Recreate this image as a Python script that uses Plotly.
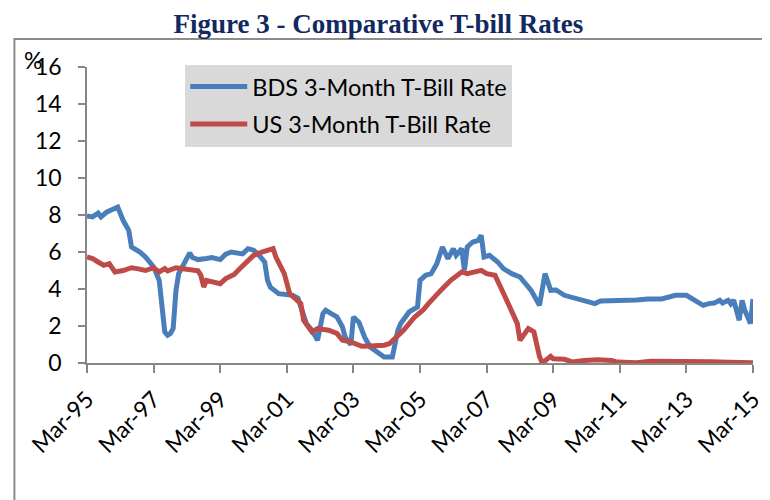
import plotly.graph_objects as go

# ---------------- data ----------------
BDS_DATES = ["1995-03", "1995-05", "1995-07", "1995-08", "1995-10", "1995-12", "1996-02", "1996-04",
             "1996-06", "1996-07", "1996-10", "1996-12", "1997-03", "1997-05", "1997-06", "1997-07",
             "1997-08", "1997-09", "1997-10", "1997-11", "1997-12", "1998-02", "1998-04", "1998-05",
             "1998-07", "1998-10", "1998-12", "1999-03", "1999-05", "1999-07", "1999-10", "1999-11",
             "2000-01", "2000-03", "2000-05", "2000-07", "2000-08", "2000-09", "2000-12", "2001-05",
             "2001-07", "2001-09", "2001-10", "2001-12", "2002-02", "2002-04", "2002-05", "2002-07",
             "2002-09", "2002-11", "2002-12", "2003-02", "2003-03", "2003-05", "2003-07", "2003-09",
             "2003-12", "2004-02", "2004-05", "2004-07", "2004-08", "2004-11", "2005-02", "2005-03",
             "2005-05", "2005-07", "2005-09", "2005-10", "2005-11", "2006-01", "2006-03", "2006-04",
             "2006-06", "2006-07", "2006-08", "2006-10", "2006-12", "2007-01", "2007-02", "2007-04",
             "2007-07", "2007-09", "2007-12", "2008-03", "2008-05", "2008-07", "2008-10", "2008-12",
             "2009-02", "2009-04", "2009-07", "2009-11", "2010-03", "2010-06", "2010-08", "2010-12",
             "2011-04", "2011-09", "2012-01", "2012-06", "2012-11", "2013-03", "2013-06", "2013-09",
             "2013-11", "2014-01", "2014-03", "2014-04", "2014-06", "2014-07", "2014-08", "2014-10",
             "2014-11", "2014-12", "2015-02", "2015-03"]
BDS_VALUES = [7.95, 7.9, 8.1, 7.9, 8.15, 8.3, 8.43, 7.7,
              7.17, 6.27, 6.0, 5.73, 5.19, 4.47, 3.03, 1.68,
              1.5, 1.6, 1.86, 3.93, 4.83, 5.46, 5.95, 5.7,
              5.59, 5.65, 5.7, 5.59, 5.88, 6.0, 5.88, 5.9,
              6.18, 6.1, 5.82, 5.46, 4.47, 4.1, 3.75, 3.66,
              3.5, 2.67, 2.13, 1.77, 1.23, 2.67, 2.85, 2.67,
              2.5, 1.95, 1.4, 0.98, 2.49, 2.2, 1.41, 0.86,
              0.5, 0.32, 0.32, 1.77, 2.13, 2.76, 3.03, 4.47,
              4.74, 4.83, 5.37, 5.82, 6.27, 5.64, 6.18, 5.82,
              6.18, 5.01, 6.27, 6.54, 6.63, 6.9, 5.73, 5.82,
              5.46, 5.1, 4.83, 4.65, 4.29, 3.93, 3.12, 4.83,
              3.93, 3.95, 3.66, 3.48, 3.3, 3.21, 3.35, 3.35,
              3.41, 3.41, 3.46, 3.46, 3.66, 3.66, 3.39, 3.12,
              3.21, 3.24, 3.39, 3.24, 3.39, 3.2, 3.4, 2.31,
              3.39, 2.85, 2.13, 3.46]

US_DATES = ["1995-03", "1995-05", "1995-07", "1995-09", "1995-11", "1996-01", "1996-04", "1996-07",
            "1996-09", "1996-12", "1997-03", "1997-05", "1997-07", "1997-08", "1997-11", "1998-03",
            "1998-07", "1998-08", "1998-09", "1998-10", "1999-01", "1999-03", "1999-05", "1999-08",
            "1999-10", "2000-01", "2000-03", "2000-06", "2000-08", "2000-10", "2000-11", "2001-02",
            "2001-04", "2001-06", "2001-08", "2001-09", "2001-12", "2002-02", "2002-06", "2002-09",
            "2002-11", "2003-02", "2003-04", "2003-06", "2003-09", "2004-02", "2004-04", "2004-06",
            "2004-09", "2005-01", "2005-04", "2005-06", "2005-08", "2005-11", "2006-02", "2006-04",
            "2006-06", "2006-08", "2006-11", "2007-01", "2007-03", "2007-06", "2007-08", "2007-09",
            "2007-12", "2008-02", "2008-03", "2008-04", "2008-06", "2008-08", "2008-09", "2008-10",
            "2008-11", "2008-12", "2009-02", "2009-03", "2009-07", "2009-10", "2010-02", "2010-07",
            "2010-12", "2011-02", "2011-09", "2012-02", "2012-09", "2013-02", "2013-07", "2013-12",
            "2014-06", "2014-11", "2015-03"]
US_VALUES = [5.73, 5.64, 5.46, 5.28, 5.37, 4.92, 5.0, 5.15,
             5.1, 5.0, 5.15, 4.92, 5.1, 4.98, 5.15, 5.05,
             4.98, 4.74, 4.11, 4.47, 4.38, 4.29, 4.56, 4.79,
             5.1, 5.55, 5.82, 6.0, 6.1, 6.18, 5.73, 4.83,
             3.75, 3.48, 3.21, 2.31, 1.68, 1.86, 1.77, 1.6,
             1.23, 1.14, 1.05, 0.9, 0.92, 0.96, 1.05, 1.32,
             1.77, 2.49, 2.85, 3.21, 3.57, 4.02, 4.47, 4.71,
             4.92, 4.83, 4.92, 5.01, 4.83, 4.74, 4.11, 3.75,
             2.85, 2.13, 1.23, 1.41, 1.86, 1.68, 0.86, 0.35,
             0.0, 0.1, 0.36, 0.23, 0.2, 0.05, 0.14, 0.18,
             0.14, 0.05, 0.02, 0.09, 0.1, 0.09, 0.05, 0.07,
             0.04, 0.03, 0.02]

TICK_DATES = ["1995-03", "1997-03", "1999-03", "2001-03", "2003-03", "2005-03",
              "2007-03", "2009-03", "2011-03", "2013-03", "2015-03"]
TICK_LABELS = ["Mar-95", "Mar-97", "Mar-99", "Mar-01", "Mar-03", "Mar-05",
               "Mar-07", "Mar-09", "Mar-11", "Mar-13", "Mar-15"]
Y_TICKS = [0, 2, 4, 6, 8, 10, 12, 14, 16]

SERIES_NAMES = ["BDS 3-Month T-Bill Rate", "US 3-Month T-Bill Rate"]
TITLE = "Figure 3 - Comparative T-bill Rates"

# ---------------- figure ----------------
FONT = "Lato, Calibri, 'Open Sans', sans-serif"
BLUE = "#4a7ebb"
RED = "#be4b48"
AXIS_GREY = "#868686"

fig = go.Figure()
fig.add_trace(go.Scatter(x=BDS_DATES, y=BDS_VALUES, mode="lines", name=SERIES_NAMES[0],
                         legendgroup="a", line=dict(color=BLUE, width=5, shape="linear")))
fig.add_trace(go.Scatter(x=US_DATES, y=US_VALUES, mode="lines", name=SERIES_NAMES[1],
                         legendgroup="b", line=dict(color=RED, width=5, shape="linear")))

# page body has an 8px default margin, so the figure is sized/offset to compensate
fig.update_layout(
    width=762, height=492,
    margin=dict(l=79, r=17, t=59, b=137, autoexpand=False),
    paper_bgcolor="white", plot_bgcolor="white",
    font=dict(family=FONT, size=23, color="black"),
    title=dict(text="<b>" + TITLE + "</b>", x=0.486, xanchor="center", xref="container",
               y=0.9675, yanchor="middle", yref="container",
               font=dict(family="'Liberation Serif', 'Times New Roman', serif", size=27, color="#12295f")),
    showlegend=True,
    legend=dict(x=0.1475, y=1.008, xanchor="left", yanchor="top",
                bgcolor="#d9d9d9", borderwidth=0, font=dict(size=23.5, family=FONT),
                itemwidth=57, tracegroupgap=4),
    xaxis=dict(type="date", range=["1995-03-01", "2015-03-01"], automargin=False,
               tickmode="array", tickvals=TICK_DATES, ticktext=TICK_LABELS,
               tickangle=-45, ticks="outside", ticklen=8, tickwidth=1.5, tickcolor=AXIS_GREY,
               showline=True, linecolor=AXIS_GREY, linewidth=1.5,
               showgrid=False, zeroline=False, tickfont=dict(size=23),
               ticklabelstandoff=4),
    yaxis=dict(range=[0, 16], tickmode="array", tickvals=Y_TICKS, automargin=False,
               ticks="outside", ticklen=7, tickwidth=1.5, tickcolor=AXIS_GREY,
               showline=True, linecolor=AXIS_GREY, linewidth=1.5,
               showgrid=False, zeroline=False, tickfont=dict(size=23),
               ticklabelstandoff=12),
)

fig.add_annotation(text="%", xref="paper", yref="paper", x=-0.0805, y=1.0226,
                   xanchor="center", yanchor="middle", showarrow=False,
                   font=dict(size=23, family=FONT, color="black"))

# outer chart border (extends past the page edges like the cropped original)
fig.add_shape(type="rect", xref="paper", yref="paper", x0=-0.109, x1=1.05, y0=-0.6, y1=1.095,
              line=dict(color="#8c8c8c", width=2), fillcolor="rgba(0,0,0,0)", layer="below")

fig.write_html("out.html")
